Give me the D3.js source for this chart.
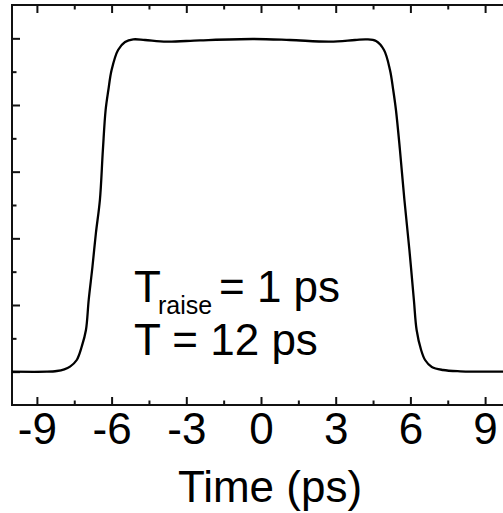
<!DOCTYPE html>
<html>
<head>
<meta charset="utf-8">
<script src="https://cdn.jsdelivr.net/npm/d3@7"></script>
<style>
  html, body { margin: 0; padding: 0; background: #fff; overflow: hidden; }
  svg { display: block; font-family: "Liberation Sans", Arial, sans-serif; }
</style>
</head>
<body>
<svg id="chart" width="503" height="513"></svg>
<script>
// Flat-top pulse envelope: time (ps) and normalised amplitude
const timePs = [-10, -8.6, -8.2, -7.9, -7.67, -7.4, -7.2, -7.03, -6.92, -6.77, -6.63, -6.47,
  -6.35, -6.24, -6.13, -6.0, -5.74, -5.46, -5.13, -4.66, -3.79, -2.45, -0.32, 1.16, 2.77,
  3.78, 4.24, 4.62, 4.94, 5.18, 5.31, 5.42, 5.58, 5.76, 5.96, 6.14, 6.25, 6.43, 6.59,
  6.86, 7.31, 8.0, 8.6, 10];
const amplitude = [0, 0, 0.002, 0.007, 0.015, 0.035, 0.075, 0.125, 0.215, 0.314, 0.416, 0.515,
  0.665, 0.785, 0.845, 0.905, 0.965, 0.989, 0.997, 0.995, 0.990, 0.994, 0.998, 0.995, 0.990,
  0.995, 0.997, 0.992, 0.965, 0.905, 0.845, 0.785, 0.665, 0.515, 0.365, 0.215, 0.125, 0.065, 0.035,
  0.014, 0.005, 0.001, 0, 0];

const xTickValues = [-9, -6, -3, 0, 3, 6, 9];
const xMinorValues = [-7.5, -4.5, -1.5, 1.5, 4.5, 7.5];
const yTickValues = [0, 0.2, 0.4, 0.6, 0.8, 1.0];
const yMinorValues = [0.1, 0.3, 0.5, 0.7, 0.9];
const xTitle = "Time (ps)";

const svg = d3.select("#chart");
const plotLeft = 12, plotRight = 510, plotTop = 5, plotBottom = 405;

const x = d3.scaleLinear().domain([-10, 10]).range([plotLeft, plotRight]);
const y = d3.scaleLinear().domain([-0.1, 1.1]).range([plotBottom, plotTop]);

const ink = "#111";
const axisWidth = 2;

// Plot frame
svg.append("rect")
  .attr("x", plotLeft).attr("y", plotTop)
  .attr("width", plotRight - plotLeft).attr("height", plotBottom - plotTop)
  .attr("fill", "none").attr("stroke", ink).attr("stroke-width", axisWidth);

function styleAxis(g) {
  g.select(".domain").remove();
  g.selectAll(".tick line").attr("stroke", ink).attr("stroke-width", axisWidth);
}

// Bottom axis with inward ticks and labels
const gx = svg.append("g").attr("transform", `translate(0,${plotBottom})`)
  .call(d3.axisBottom(x).tickValues(xTickValues).tickSize(-8).tickSizeOuter(0).tickPadding(8)
    .tickFormat(d => d3.format("d")(d).replace("\u2212", "-")));
styleAxis(gx);
gx.selectAll(".tick text").attr("fill", "#000").attr("font-size", 44)
  .attr("font-family", "'Liberation Sans', Arial, sans-serif");

svg.append("g").attr("transform", `translate(0,${plotBottom})`)
  .call(d3.axisBottom(x).tickValues(xMinorValues).tickSize(-4.5).tickFormat(""))
  .call(styleAxis);

// Top axis (ticks only)
svg.append("g").attr("transform", `translate(0,${plotTop})`)
  .call(d3.axisTop(x).tickValues(xTickValues).tickSize(-8).tickFormat(""))
  .call(styleAxis);
svg.append("g").attr("transform", `translate(0,${plotTop})`)
  .call(d3.axisTop(x).tickValues(xMinorValues).tickSize(-4.5).tickFormat(""))
  .call(styleAxis);

// Left axis (ticks only)
svg.append("g").attr("transform", `translate(${plotLeft},0)`)
  .call(d3.axisLeft(y).tickValues(yTickValues).tickSize(-8).tickFormat(""))
  .call(styleAxis);
svg.append("g").attr("transform", `translate(${plotLeft},0)`)
  .call(d3.axisLeft(y).tickValues(yMinorValues).tickSize(-4.5).tickFormat(""))
  .call(styleAxis);

// Pulse curve
const line = d3.line()
  .x((d, i) => x(timePs[i]))
  .y((d, i) => y(amplitude[i]))
  .curve(d3.curveCatmullRom.alpha(0.5));

svg.append("path")
  .datum(timePs)
  .attr("d", line)
  .attr("fill", "none")
  .attr("stroke", "#000")
  .attr("stroke-width", 2.3)
  .attr("stroke-linejoin", "round");

// Axis title
svg.append("text")
  .attr("x", 270).attr("y", 501.5)
  .attr("text-anchor", "middle")
  .attr("font-size", 44)
  .attr("fill", "#000")
  .text(xTitle);

// Pulse parameters
const note1 = svg.append("text").attr("y", 301.5).attr("font-size", 44).attr("fill", "#000");
note1.append("tspan").attr("x", 134).text("T");
note1.append("tspan").attr("x", 158).attr("y", 314).attr("font-size", 25).text("raise");
note1.append("tspan").attr("x", 219).attr("y", 301.5).text("= 1 ps");

svg.append("text")
  .attr("x", 134).attr("y", 355)
  .attr("font-size", 44).attr("fill", "#000")
  .text("T = 12 ps");
</script>
</body>
</html>
